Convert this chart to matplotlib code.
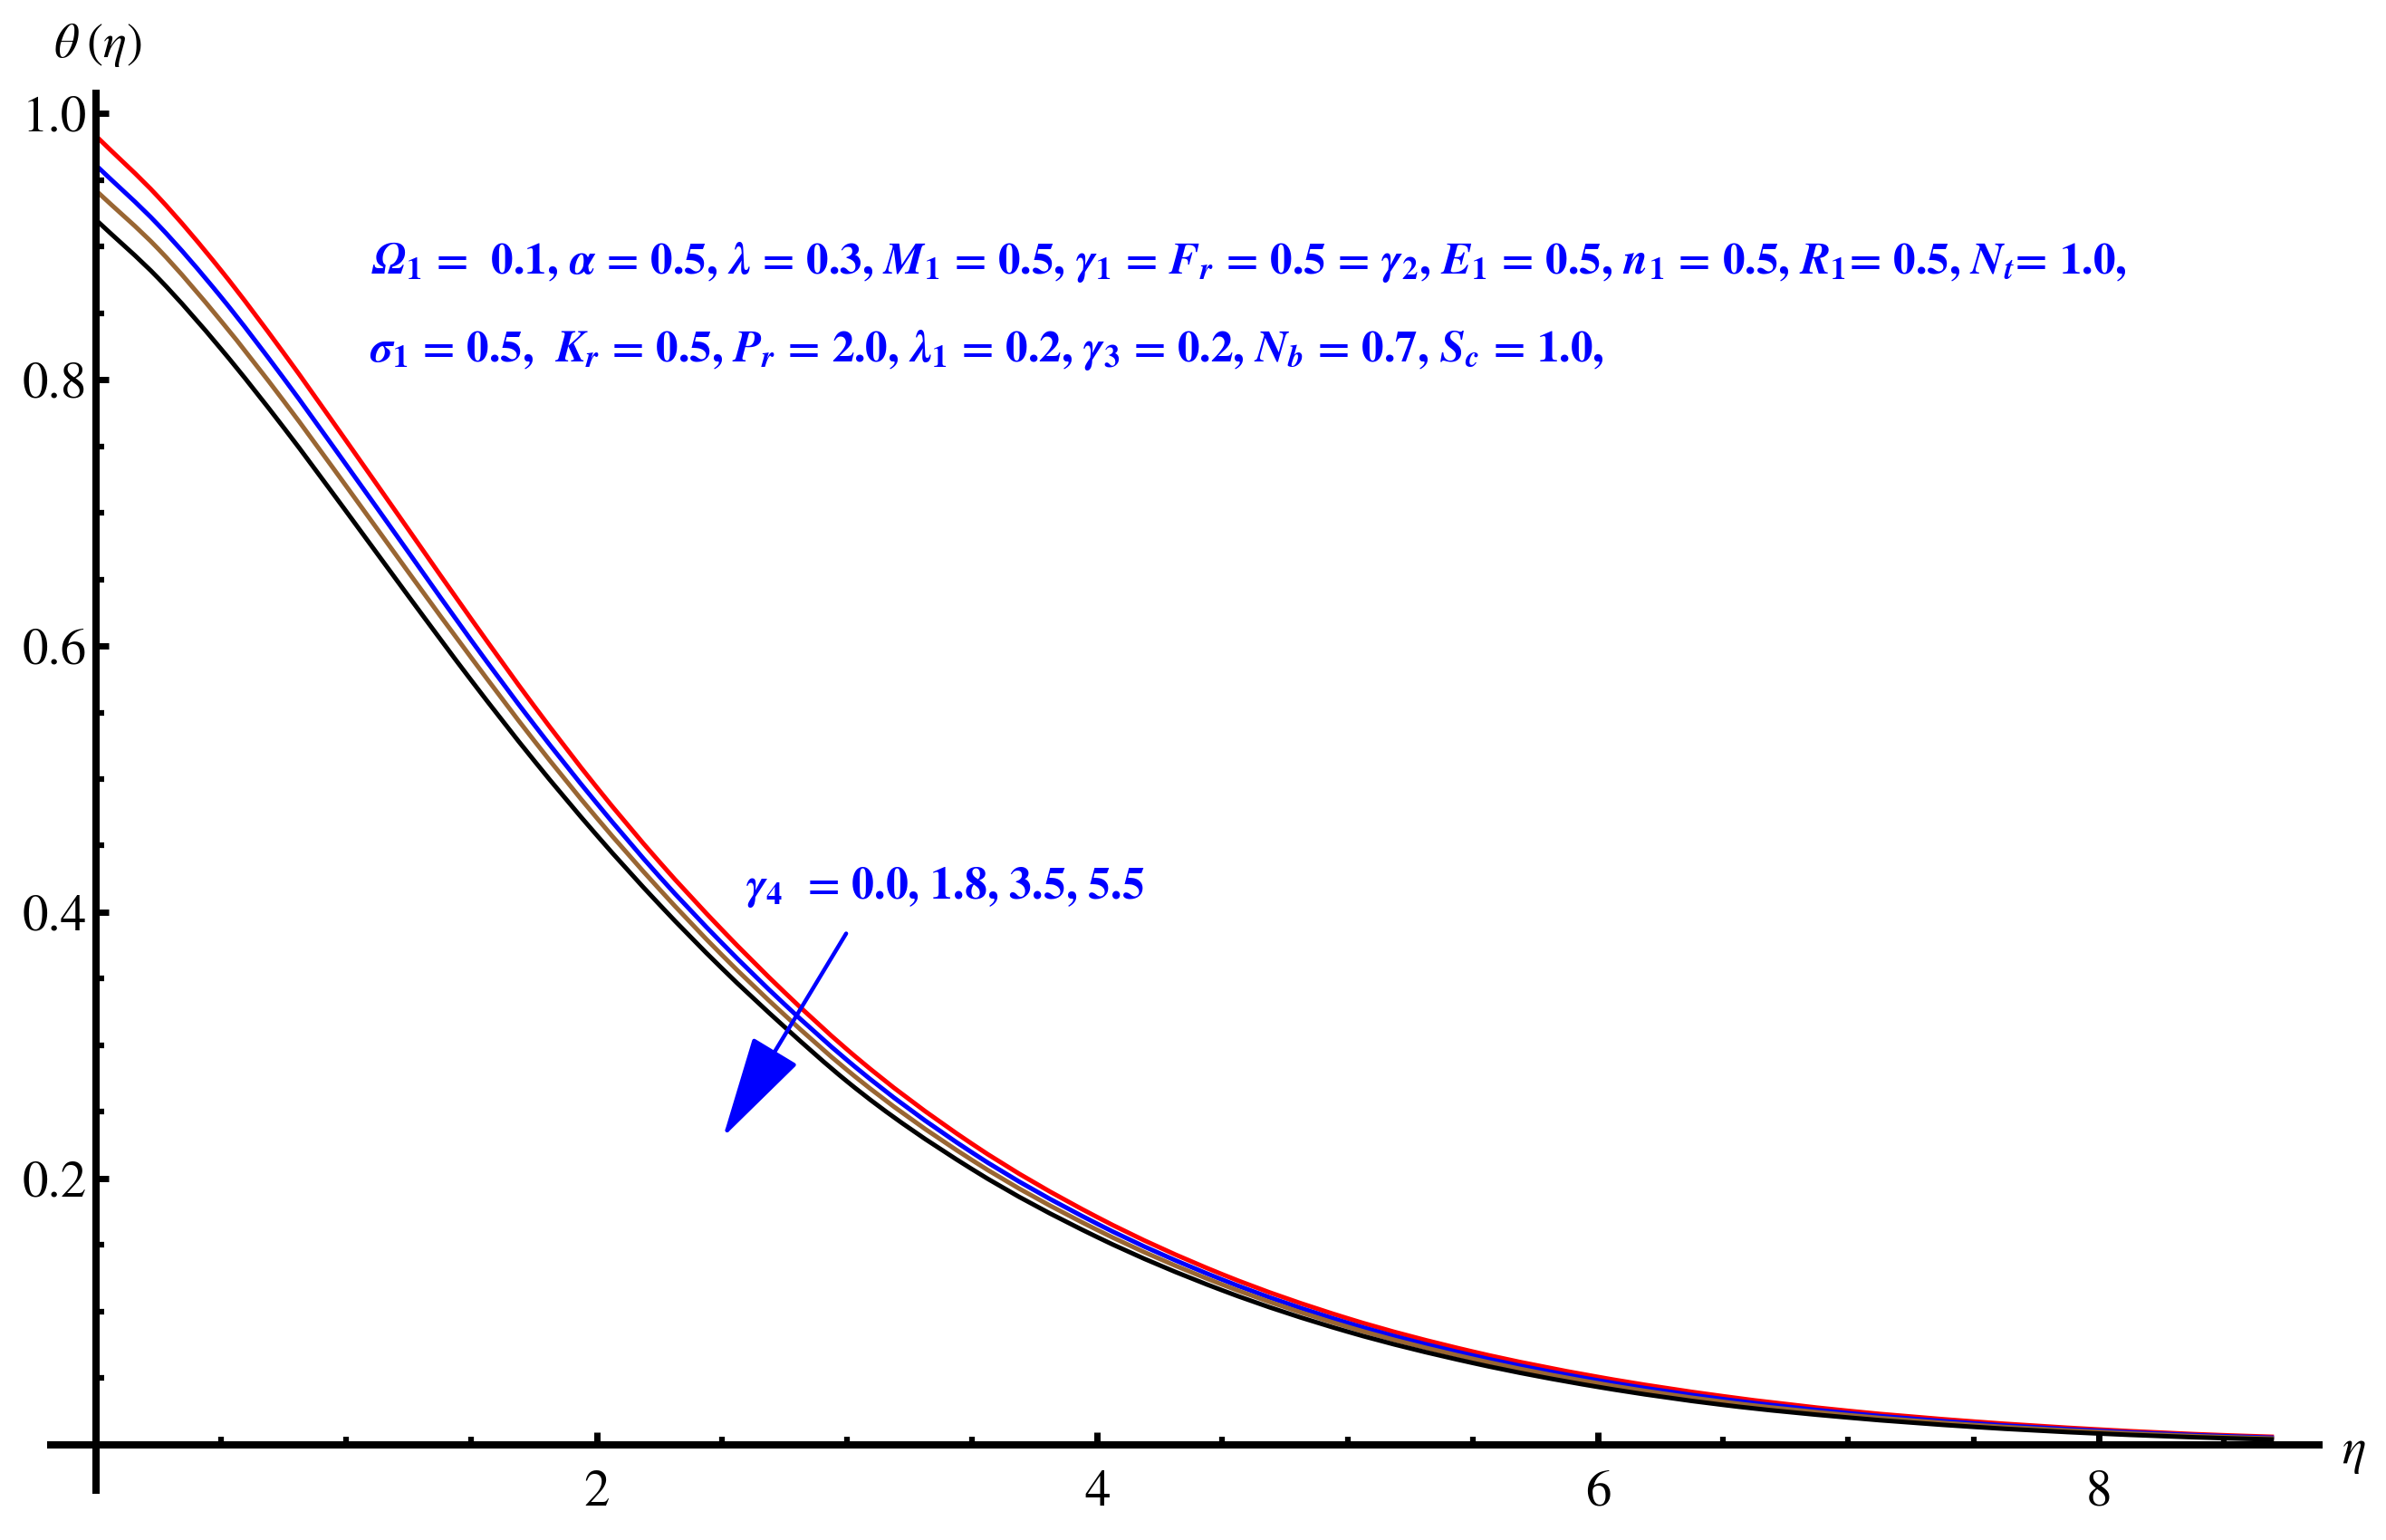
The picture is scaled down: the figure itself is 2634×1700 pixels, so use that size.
import numpy as np
import matplotlib
matplotlib.use('Agg')
import matplotlib.pyplot as plt
from matplotlib.ticker import MultipleLocator, FixedLocator
from matplotlib.path import Path
from matplotlib.patches import PathPatch

plt.rcParams['font.family'] = 'STIXGeneral'
plt.rcParams['mathtext.fontset'] = 'stix'

# eta grid and theta(eta) for gamma_4 = 0.0, 1.8, 3.5, 5.5
eta = [0, 0.25, 0.5, 0.75, 1.0, 1.25, 1.5, 1.75, 2.0, 2.25, 2.5, 2.75, 3.0,
       3.5, 4.0, 4.5, 5.0, 5.5, 6.0, 6.5, 7.0, 7.5, 8.0, 8.5, 8.7]
theta_g00 = [0.983, 0.937, 0.882, 0.820, 0.754, 0.687, 0.620, 0.555, 0.494, 0.438, 0.387, 0.340, 0.297,
             0.226, 0.171, 0.128, 0.095, 0.070, 0.051, 0.0365, 0.0255, 0.0175, 0.0115, 0.0072, 0.006]
theta_g18 = [0.961, 0.916, 0.862, 0.801, 0.736, 0.670, 0.604, 0.541, 0.482, 0.427, 0.377, 0.331, 0.289,
             0.2195, 0.166, 0.124, 0.0916, 0.0671, 0.0484, 0.0343, 0.0238, 0.0161, 0.0105, 0.0065, 0.0053]
theta_g35 = [0.942, 0.898, 0.844, 0.784, 0.720, 0.655, 0.591, 0.529, 0.471, 0.4175, 0.368, 0.323, 0.2816,
             0.2138, 0.1614, 0.1203, 0.0886, 0.0646, 0.0462, 0.0323, 0.0223, 0.0149, 0.0096, 0.0058, 0.0047]
theta_g55 = [0.920, 0.876, 0.823, 0.764, 0.701, 0.637, 0.574, 0.514, 0.458, 0.406, 0.358, 0.314, 0.273,
             0.207, 0.156, 0.116, 0.085, 0.0615, 0.0435, 0.030, 0.0205, 0.0135, 0.0085, 0.005, 0.004]

series = [theta_g00, theta_g18, theta_g35, theta_g55]
colors = ['#ff0000', '#0000ff', '#996633', '#000000']

x_major = [2, 4, 6, 8]
y_major = [0.2, 0.4, 0.6, 0.8, 1.0]

line1 = (r"$\mathbfit{\Omega}_{\mathbf{1}}$ =  0.1, $\mathbfit{\alpha}$ = 0.5, $\mathbfit{\lambda}$ = 0.3, "
         r"$\mathbfit{M}_{\mathbf{1}}$ = 0.5, $\mathbfit{\gamma}_{\mathbf{1}}$ = $\mathbfit{F}_{\mathbfit{r}}$ = 0.5 = "
         r"$\mathbfit{\gamma}_{\mathbf{2}}$, $\mathbfit{E}_{\mathbf{1}}$ = 0.5, $\mathbfit{n}_{\mathbf{1}}$ = 0.5, "
         r"$\mathbfit{R}_{\mathbf{1}}$= 0.5, $\mathbfit{N}_{\mathbfit{t}}$= 1.0,")
line2 = (r"$\mathbfit{\sigma}_{\mathbf{1}}$ = 0.5,  $\mathbfit{K}_{\mathbfit{r}}$ = 0.5, $\mathbfit{P}_{\mathbfit{r}}$ = 2.0, "
         r"$\mathbfit{\lambda}_{\mathbf{1}}$ = 0.2, $\mathbfit{\gamma}_{\mathbf{3}}$ = 0.2, $\mathbfit{N}_{\mathbfit{b}}$ = 0.7, "
         r"$\mathbfit{S}_{\mathbfit{c}}$ = 1.0,")
gamma_label = r"$\mathbfit{\gamma}_{\mathbf{4}}$  = 0.0, 1.8, 3.5, 5.5"


def smooth_path(x, y):
    # cubic hermite through the read points, drawn as bezier segments
    x = np.asarray(x, float)
    y = np.asarray(y, float)
    h = np.diff(x)
    d = np.diff(y) / h
    m = np.empty_like(y)
    m[0], m[-1] = d[0], d[-1]
    m[1:-1] = (h[:-1] * d[1:] + h[1:] * d[:-1]) / (h[:-1] + h[1:])
    verts = [(x[0], y[0])]
    codes = [Path.MOVETO]
    for i in range(len(x) - 1):
        verts += [(x[i] + h[i] / 3, y[i] + m[i] * h[i] / 3),
                  (x[i + 1] - h[i] / 3, y[i + 1] - m[i + 1] * h[i] / 3),
                  (x[i + 1], y[i + 1])]
        codes += [Path.CURVE4] * 3
    return Path(verts, codes)


fig = plt.figure(figsize=(26.34, 17.0), dpi=100)
ax = fig.add_axes([0.0213, 0.0324, 0.9506, 0.907])
ax.set_xlim(-0.18, 8.88)
ax.set_ylim(-0.034, 1.015)

for th, c in zip(series, colors):
    ax.add_patch(PathPatch(smooth_path(eta, th), fill=False, edgecolor=c, lw=3.6, capstyle='butt'))

for s in ['top', 'right']:
    ax.spines[s].set_visible(False)
for s in ['left', 'bottom']:
    ax.spines[s].set_position(('data', 0))
    ax.spines[s].set_linewidth(5.8)

ax.xaxis.set_major_locator(FixedLocator(x_major))
ax.yaxis.set_major_locator(FixedLocator(y_major))
ax.xaxis.set_minor_locator(MultipleLocator(0.5))
ax.yaxis.set_minor_locator(MultipleLocator(0.05))
ax.tick_params(which='major', direction='in', length=10, width=5, labelsize=41)
ax.tick_params(which='minor', direction='in', length=6.5, width=4.5)
ax.tick_params(axis='y', pad=7)
ax.tick_params(axis='x', pad=20)

fig.text(0.041, 0.9706, r"$\theta\;(\eta)$", fontsize=39, ha='center', va='center')
ax.text(9.02, -0.006, r"$\eta$", fontsize=40, ha='center', va='center', clip_on=False)

ax.text(1.093, 0.888, line1, fontsize=35.5, fontweight='bold', color='#0000ff', va='center')
ax.text(1.093, 0.822, line2, fontsize=35.5, fontweight='bold', color='#0000ff', va='center')
ax.text(2.594, 0.419, gamma_label, fontsize=35.8, fontweight='bold', color='#0000ff', va='center')

ax.annotate('', xy=(2.505, 0.231), xytext=(2.997, 0.384),
            arrowprops=dict(arrowstyle='-|>,head_length=72,head_width=18.5', mutation_scale=1,
                            color='#0000ff', lw=3.2, shrinkA=0, shrinkB=0))

fig.savefig('out.png', dpi=100)
